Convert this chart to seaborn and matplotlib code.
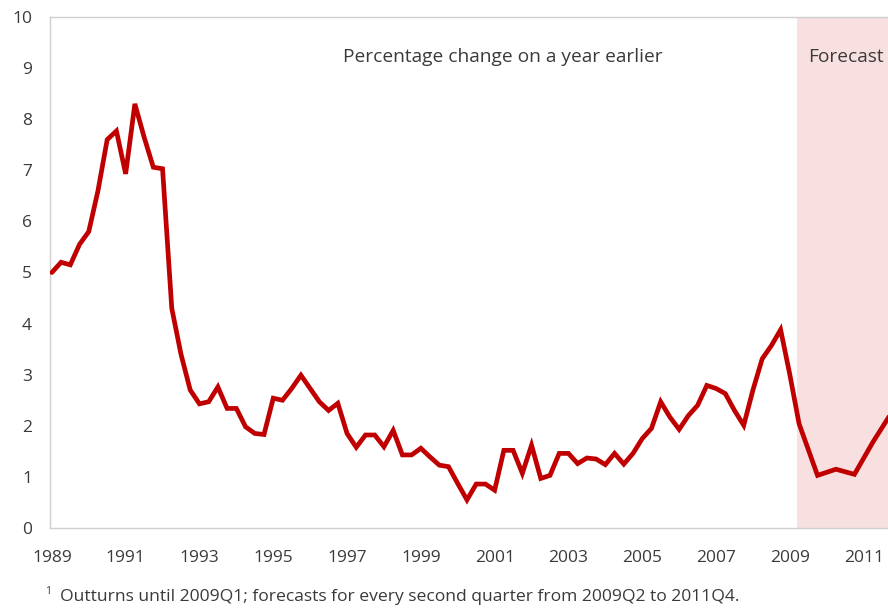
import numpy as np
import pandas as pd
import matplotlib
matplotlib.use("Agg")
import matplotlib.pyplot as plt
import seaborn as sns

# ---- data ----
outturn_start_year = 1989
outturn = [
    5.0, 5.2, 5.15, 5.55,      # 1989
    5.8, 6.6, 7.6, 7.77,       # 1990
    6.93, 8.3, 7.65, 7.06,     # 1991
    7.03, 4.3, 3.4, 2.7,       # 1992
    2.43, 2.47, 2.76, 2.34,    # 1993
    2.34, 1.98, 1.85, 1.83,    # 1994
    2.54, 2.5, 2.73, 2.99,     # 1995
    2.73, 2.47, 2.3, 2.44,     # 1996
    1.85, 1.58, 1.82, 1.82,    # 1997
    1.59, 1.91, 1.43, 1.43,    # 1998
    1.56, 1.39, 1.23, 1.2,     # 1999
    0.87, 0.55, 0.86, 0.86,    # 2000
    0.74, 1.52, 1.52, 1.07,    # 2001
    1.62, 0.97, 1.03, 1.46,    # 2002
    1.46, 1.26, 1.37, 1.35,    # 2003
    1.24, 1.46, 1.25, 1.46,    # 2004
    1.75, 1.95, 2.47, 2.17,    # 2005
    1.93, 2.2, 2.4, 2.79,      # 2006
    2.73, 2.63, 2.3, 2.01,     # 2007
    2.7, 3.31, 3.57, 3.88,     # 2008
    3.0,                       # 2009Q1
]
forecast_quarters = ["2009Q2", "2009Q4", "2010Q2", "2010Q4", "2011Q2", "2011Q4"]
forecast = [2.04, 1.03, 1.15, 1.05, 1.68, 2.25]

tick_years = list(range(1989, 2012))
label_years = list(range(1989, 2012, 2))
y_ticks = list(range(0, 11))

title_text = "Percentage change on a year earlier"
forecast_text = "Forecast"
footnote_text = "Outturns until 2009Q1; forecasts for every second quarter from 2009Q2 to 2011Q4."

# ---- build table ----
def q_to_x(year, q):
    return year + (q - 1) / 4.0

x_out = [q_to_x(outturn_start_year + i // 4, i % 4 + 1) for i in range(len(outturn))]
x_fc = [q_to_x(int(s[:4]), int(s[-1])) for s in forecast_quarters]
df = pd.DataFrame({"x": x_out + x_fc, "value": outturn + forecast})

# ---- plot ----
sns.set_theme(style="white")
plt.rcParams["font.family"] = ["Open Sans", "DejaVu Sans"]
text_color = "#3a3a3a"
spine_color = "#cfcfcf"

fig = plt.figure(figsize=(8.88, 6.09), dpi=100)
ax = fig.add_axes([50 / 888, 1 - 528 / 609, 838 / 888, (528 - 17) / 609])

forecast_start = 2009.19
xmin = 1988.95
xmax = xmin + 838 / 36.9
ax.axvspan(forecast_start, xmax + 1, color="#f9e0e0", lw=0, zorder=0)

sns.lineplot(data=df, x="x", y="value", ax=ax, color="#c00000", linewidth=3.4,
             solid_joinstyle="miter", zorder=3)

ax.set_xlim(xmin, xmax)
ax.set_ylim(0, 10)
ax.set_xlabel("")
ax.set_ylabel("")

ax.set_xticks(tick_years)
ax.set_xticklabels([str(y) if y in label_years else "" for y in tick_years])
ax.set_yticks(y_ticks)
ax.set_yticklabels([str(v) for v in y_ticks])

ax.tick_params(axis="x", which="major", direction="out", length=4, width=0.8,
               color=spine_color, labelsize=12.5, labelcolor=text_color, pad=12)
ax.tick_params(axis="y", length=0, labelsize=12.5, labelcolor=text_color, pad=13)

for side in ["left", "bottom", "top"]:
    ax.spines[side].set_visible(True)
    ax.spines[side].set_color(spine_color)
    ax.spines[side].set_linewidth(1.0)
ax.spines["right"].set_visible(False)
ax.grid(False)

fig.text(503 / 888, 1 - 57 / 609, title_text, ha="center", va="center",
         fontsize=13.8, color=text_color)
fig.text(808 / 888, 1 - 57 / 609, forecast_text, ha="left", va="center",
         fontsize=13.8, color=text_color)
fig.text(45 / 888, 1 - 591 / 609, "1", ha="left", va="center",
         fontsize=7.5, color=text_color)
fig.text(60 / 888, 1 - 597 / 609, footnote_text, ha="left", va="center",
         fontsize=12.6, color=text_color)

fig.savefig("out.png", dpi=100, facecolor="white")
